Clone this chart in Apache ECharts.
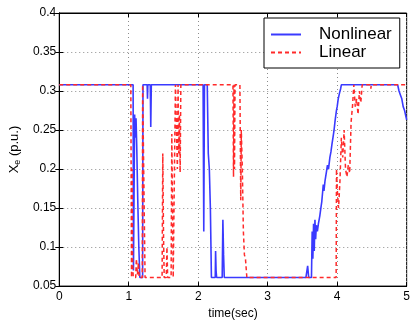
<!DOCTYPE html>
<html>
<head>
<meta charset="utf-8">
<script src="https://cdn.jsdelivr.net/npm/echarts@6/dist/echarts.min.js"></script>
<style>
  html, body { margin: 0; padding: 0; background: #fff; }
  #chart { width: 413px; height: 325px; }
</style>
</head>
<body>
<div id="chart"></div>
<script>
// Nonlinear model response (blue solid)
const nlTime = [0, 1.063, 1.068, 1.085, 1.095, 1.105, 1.115, 1.13, 1.145, 1.16, 1.2, 1.205, 1.265, 1.27, 1.275, 1.31, 1.317, 1.325,
  2.07, 2.08, 2.09, 2.13, 2.145, 2.16, 2.175, 2.19, 2.245, 2.25, 2.257, 2.265, 2.345, 2.355, 2.365, 2.375,
  3.55, 3.56, 3.575, 3.59, 3.63, 3.64, 3.65, 3.66, 3.67, 3.68, 3.69, 3.7, 3.715, 3.73, 3.75, 3.765, 3.778, 3.79, 3.8, 3.81,
  3.825, 3.848, 3.86, 3.875, 3.895, 3.91, 3.925, 3.942, 3.955, 3.97, 3.989, 4.0, 4.015, 4.035, 4.05, 4.06,
  4.87, 4.89, 4.91, 4.93, 4.95, 4.97, 5.0];
const nlValue = [0.308, 0.308, 0.07, 0.27, 0.24, 0.265, 0.23, 0.16, 0.1, 0.061, 0.061, 0.308, 0.308, 0.29, 0.308, 0.308, 0.254, 0.308,
  0.308, 0.12, 0.308, 0.308, 0.22, 0.2, 0.15, 0.061, 0.061, 0.095, 0.07, 0.061, 0.061, 0.135, 0.09, 0.061,
  0.061, 0.061, 0.076, 0.061, 0.061, 0.12, 0.085, 0.13, 0.095, 0.135, 0.11, 0.128, 0.12, 0.13, 0.14, 0.15, 0.158, 0.17, 0.18, 0.172,
  0.185, 0.198, 0.205, 0.2, 0.215, 0.222, 0.232, 0.242, 0.25, 0.262, 0.275, 0.28, 0.29, 0.298, 0.303, 0.308,
  0.308, 0.3, 0.295, 0.29, 0.28, 0.275, 0.263];

// Linear model response (red dashed)
const linTime = [0, 1.03, 1.04, 1.048, 1.055, 1.065, 1.1, 1.11, 1.125, 1.14, 1.15, 1.195, 1.2, 1.225, 1.235,
  1.48, 1.49, 1.5, 1.51, 1.54, 1.55, 1.56, 1.61, 1.62, 1.63, 1.64, 1.66, 1.672, 1.69, 1.7, 1.71, 1.72, 1.73, 1.74, 1.75,
  2.5, 2.508, 2.515, 2.522, 2.53, 2.6, 2.612, 2.62, 2.635, 2.65, 2.665, 2.68, 2.7,
  3.985, 3.99, 4.0, 4.02, 4.04, 4.06, 4.08, 4.1, 4.12, 4.14, 4.16, 4.18, 4.2, 4.22, 4.24, 4.26, 4.28, 4.3, 4.32, 4.34, 4.36,
  4.48, 4.485, 4.49, 5.0];
const linValue = [0.308, 0.308, 0.061, 0.2, 0.08, 0.061, 0.061, 0.085, 0.065, 0.08, 0.061, 0.061, 0.308, 0.308, 0.061,
  0.061, 0.22, 0.12, 0.061, 0.061, 0.1, 0.061, 0.061, 0.245, 0.15, 0.061, 0.061, 0.308, 0.308, 0.2, 0.308, 0.22, 0.27, 0.196, 0.308,
  0.308, 0.19, 0.308, 0.2, 0.308, 0.308, 0.16, 0.25, 0.2, 0.12, 0.09, 0.085, 0.061,
  0.061, 0.2, 0.175, 0.15, 0.185, 0.24, 0.215, 0.25, 0.2, 0.19, 0.205, 0.195, 0.26, 0.28, 0.308, 0.28, 0.29, 0.27, 0.3, 0.285, 0.308,
  0.308, 0.303, 0.308, 0.308];

const seriesNames = ["Nonlinear", "Linear"];

const font = "'Liberation Sans', Arial, Helvetica, sans-serif";
const pairs = (ts, vs) => ts.map((t, i) => [t, vs[i]]);

const chart = echarts.init(document.getElementById("chart"));

const gridLine = { show: true, lineStyle: { type: [1, 3], color: "#8c8c8c", width: 1 } };
const tickIn = { show: true, inside: true, length: 4, lineStyle: { color: "#000" } };

chart.setOption({
  animation: false,
  backgroundColor: "#fff",
  grid: { left: 51, right: 6, top: 13, bottom: 32, show: true, borderColor: "#000", borderWidth: 1 },
  legend: {
    left: 264,
    top: 18,
    orient: "vertical",
    backgroundColor: "#fff",
    borderColor: "#000",
    borderWidth: 1,
    padding: [8, 8, 7, 6],
    itemGap: 1,
    itemWidth: 30,
    itemHeight: 14,
    itemStyle: { opacity: 0 },
    textStyle: { fontFamily: font, fontSize: 17, color: "#000", padding: [0, 0, 0, 13] },
    data: seriesNames
  },
  xAxis: [
    {
      type: "value", min: 0, max: 5, interval: 1,
      name: "time(sec)", nameLocation: "middle", nameGap: 18,
      nameTextStyle: { fontFamily: font, fontSize: 12, color: "#000" },
      axisLine: { show: true, lineStyle: { color: "#000" } },
      axisTick: tickIn,
      axisLabel: { fontFamily: font, fontSize: 12, color: "#000", margin: 5 },
      splitLine: gridLine
    },
    {
      type: "value", position: "top", min: 0, max: 5, interval: 1,
      axisLine: { show: true, lineStyle: { color: "#000" } },
      axisTick: tickIn, axisLabel: { show: false }, splitLine: { show: false }
    }
  ],
  yAxis: [
    {
      type: "value", min: 0.05, max: 0.4, interval: 0.05,
      name: "{a|X}{b|e}{a| (p.u.)}", nameLocation: "middle", nameGap: 28, nameRotate: 90,
      nameTextStyle: {
        rich: {
          a: { fontFamily: font, fontSize: 13, color: "#000" },
          b: { fontFamily: font, fontSize: 9, color: "#000", verticalAlign: "bottom", padding: [6, 0, 0, 0] }
        }
      },
      axisLine: { show: true, lineStyle: { color: "#000" } },
      axisTick: tickIn,
      axisLabel: {
        fontFamily: font, fontSize: 12, color: "#000", margin: 3,
        formatter: (v) => String(+v.toFixed(2))
      },
      splitLine: gridLine
    },
    {
      type: "value", position: "right", min: 0.05, max: 0.4, interval: 0.05,
      axisLine: { show: true, lineStyle: { color: "#000" } },
      axisTick: tickIn, axisLabel: { show: false }, splitLine: { show: false }
    }
  ],
  series: [
    {
      name: seriesNames[0], type: "line", symbol: "none", xAxisIndex: 0, yAxisIndex: 0,
      lineStyle: { color: "#3a3aff", width: 1.6 },
      itemStyle: { color: "#3a3aff" },
      data: pairs(nlTime, nlValue)
    },
    {
      name: seriesNames[1], type: "line", symbol: "none", xAxisIndex: 0, yAxisIndex: 0,
      lineStyle: { color: "#ff2a2a", width: 1.5, type: [4, 3] },
      itemStyle: { color: "#ff2a2a" },
      data: pairs(linTime, linValue)
    }
  ]
});
</script>
</body>
</html>
